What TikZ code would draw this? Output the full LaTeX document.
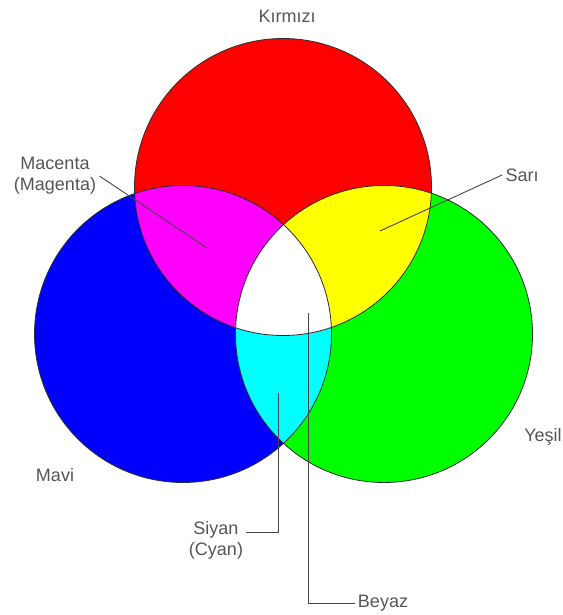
\documentclass[tikz,border=0pt]{standalone}
\usepackage{fontspec}
\setmainfont{Liberation Sans}
\usetikzlibrary{calc}
\definecolor{labelcol}{RGB}{85,85,85}
\definecolor{linecol}{RGB}{70,70,70}
\definecolor{rimcol}{RGB}{45,45,45}
\definecolor{redcol}{RGB}{255,0,0}
\definecolor{bluecol}{RGB}{0,0,255}
\definecolor{greencol}{RGB}{0,255,0}
\definecolor{magcol}{RGB}{255,0,255}
\definecolor{yelcol}{RGB}{255,255,0}
\definecolor{cyancol}{RGB}{0,255,255}

\begin{document}
\begin{tikzpicture}[
    x=0.5pt, y=-0.5pt,
    lbl/.style={text=labelcol, font=\fontsize{9}{10.5}\selectfont, inner sep=1.5pt, align=center},
    lead/.style={draw=linecol, line width=0.45pt},
    rim/.style={draw=rimcol, line width=0.4pt}
  ]
  \useasboundingbox (0,0) rectangle (562,615);
  \def\rad{148.5}
  \coordinate (cR) at (283,187);
  \coordinate (cB) at (183,334);
  \coordinate (cG) at (384,334);

  % primary discs
  \fill[redcol] (cR) circle[radius=\rad];
  \fill[bluecol] (cB) circle[radius=\rad];
  \fill[greencol] (cG) circle[radius=\rad];

  % overlaps
  \begin{scope}
    \clip (cB) circle[radius=\rad];
    \fill[cyancol] (cG) circle[radius=\rad];
  \end{scope}
  \begin{scope}
    \clip (cR) circle[radius=\rad];
    \fill[magcol] (cB) circle[radius=\rad];
    \fill[yelcol] (cG) circle[radius=\rad];
    \clip (cB) circle[radius=\rad];
    \fill[white] (cG) circle[radius=\rad];
  \end{scope}

  \draw[rim] (cR) circle[radius=\rad];
  \draw[rim] (cB) circle[radius=\rad];
  \draw[rim] (cG) circle[radius=\rad];

  % labels
  \node[lbl] (kirmizi) at (287,16) {Kırmızı};
  \node[lbl] (macenta) at (55,176) {Macenta\\(Magenta)};
  \node[lbl] (sari) at (522,175) {Sarı};
  \node[lbl] (mavi) at (55,475) {Mavi};
  \node[lbl] (yesil) at (543,437) {Yeşil};
  \node[lbl] (siyan) at (216,540) {Siyan\\(Cyan)};
  \node[lbl] (beyaz) at (383,603) {Beyaz};

  \coordinate (pM) at (207,248);
  \coordinate (pY) at (380,231);
  \coordinate (pC) at (278,393);
  \coordinate (pW) at (308,313);

  \draw[lead] (macenta.east) -- (pM);
  \draw[lead] (sari.west) -- (pY);
  \draw[lead] ($(siyan.east)+(0,-8)$) -| (pC);
  \draw[lead] (beyaz.west) -| (pW);
\end{tikzpicture}
\end{document}
